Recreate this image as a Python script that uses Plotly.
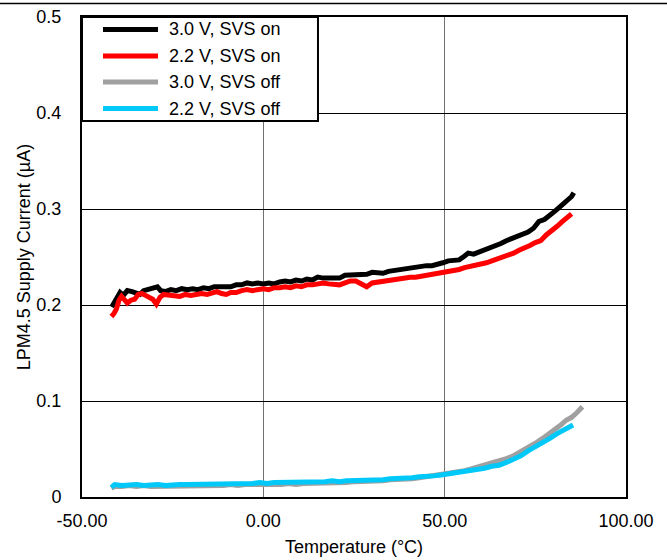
import plotly.graph_objects as go

series_names = ["3.0 V, SVS on", "2.2 V, SVS on", "3.0 V, SVS off", "2.2 V, SVS off"]
series_colors = ["#000000", "#FF0000", "#A0A0A0", "#00C8F8"]

x_on30 = [-41.8, -41.0, -40.2, -39.5, -38.6, -37.5, -36.2, -35.0, -34.0, -33.0, -31.8, -30.5, -29.2, -28.3,
          -27.0, -25.5, -24.0, -22.5, -21.0, -19.5, -18.0, -16.5, -15.0, -13.5, -12.0, -10.5, -9.0, -7.5,
          -6.0, -4.5, -3.0, -1.5, 0.0, 1.5, 3.0, 4.5, 6.0, 7.5, 9.0, 10.5, 12.0, 13.5, 15.0, 16.5, 18.0,
          19.5, 21.0, 22.5, 24.0, 25.5, 27.0, 28.5, 30.0, 31.5, 33.0, 34.5, 36.0, 37.5, 39.0, 40.5, 42.0,
          43.5, 45.0, 46.5, 48.0, 49.5, 51.0, 52.5, 54.0, 55.5, 56.5, 58.0, 59.5, 61.0, 62.5, 64.0, 65.5,
          67.0, 68.5, 70.0, 71.5, 73.0, 74.5, 76.0, 77.5, 79.0, 80.5, 82.0, 83.5, 85.0, 85.6]
y_on30 = [0.198, 0.203, 0.210, 0.213, 0.210, 0.215, 0.214, 0.213, 0.211, 0.215, 0.216, 0.218, 0.219, 0.215,
          0.214, 0.216, 0.215, 0.217, 0.216, 0.217, 0.216, 0.218, 0.217, 0.219, 0.219, 0.220, 0.219, 0.221,
          0.221, 0.223, 0.222, 0.223, 0.222, 0.223, 0.222, 0.224, 0.225, 0.224, 0.226, 0.225, 0.227, 0.226,
          0.229, 0.228, 0.228, 0.229, 0.228, 0.231, 0.231, 0.231, 0.232, 0.232, 0.234, 0.234, 0.233, 0.235,
          0.236, 0.236, 0.237, 0.239, 0.240, 0.240, 0.241, 0.241, 0.242, 0.244, 0.246, 0.246, 0.247, 0.251,
          0.254, 0.253, 0.255, 0.258, 0.259, 0.262, 0.264, 0.267, 0.269, 0.272, 0.274, 0.276, 0.280, 0.287,
          0.289, 0.293, 0.298, 0.303, 0.308, 0.313, 0.317]

x_on22 = [-41.9, -41.2, -40.5, -39.8, -39.1, -38.3, -37.5, -36.5, -35.5, -34.5, -33.5, -32.5, -31.5, -30.5,
          -29.5, -28.5, -27.5, -26.0, -24.5, -23.0, -21.5, -20.0, -18.5, -17.0, -15.5, -14.0, -12.8, -11.5,
          -10.2, -9.0, -7.5, -6.0, -4.5, -3.0, -1.5, 0.0, 1.5, 3.0, 4.5, 6.0, 7.5, 9.0, 10.5, 12.0, 13.5,
          15.0, 16.5, 18.0, 19.5, 21.0, 22.5, 24.0, 25.5, 27.0, 28.5, 30.0, 31.5, 33.0, 34.5, 36.0, 37.5,
          39.0, 40.5, 42.0, 43.5, 45.0, 46.5, 48.0, 49.5, 51.0, 52.5, 54.0, 55.5, 57.0, 58.5, 60.0, 61.5,
          63.0, 64.5, 66.0, 67.5, 69.0, 70.5, 72.0, 73.5, 75.0, 76.5, 78.0, 79.5, 81.0, 82.5, 84.0, 85.0]
y_on22 = [0.188, 0.191, 0.196, 0.205, 0.209, 0.205, 0.202, 0.205, 0.206, 0.211, 0.212, 0.210, 0.208, 0.206,
          0.201, 0.208, 0.211, 0.210, 0.210, 0.209, 0.211, 0.210, 0.211, 0.212, 0.211, 0.213, 0.214, 0.212,
          0.211, 0.213, 0.213, 0.215, 0.216, 0.215, 0.216, 0.217, 0.216, 0.218, 0.218, 0.219, 0.218, 0.220,
          0.219, 0.221, 0.221, 0.222, 0.223, 0.222, 0.222, 0.221, 0.223, 0.225, 0.225, 0.222, 0.219, 0.223,
          0.224, 0.225, 0.226, 0.226, 0.228, 0.228, 0.229, 0.229, 0.230, 0.231, 0.232, 0.232, 0.234, 0.234,
          0.236, 0.237, 0.239, 0.240, 0.241, 0.243, 0.244, 0.246, 0.248, 0.249, 0.251, 0.254, 0.257, 0.259,
          0.262, 0.265, 0.267, 0.273, 0.277, 0.282, 0.287, 0.291, 0.295]

x_off30 = [-41.9, -41.0, -39.0, -37.0, -35.0, -33.0, -31.0, -29.0, -27.0, -25.0, -23.0, -21.0, -19.0, -17.0,
           -15.0, -13.0, -11.0, -9.0, -7.0, -5.0, -3.0, -1.0, 1.0, 3.0, 5.0, 7.0, 9.0, 11.0, 13.0, 15.0,
           17.0, 19.0, 21.0, 23.0, 25.0, 27.0, 29.0, 31.0, 33.0, 35.0, 37.0, 39.0, 41.0, 43.0, 45.0, 47.0,
           49.0, 51.0, 53.0, 55.0, 57.0, 59.0, 61.0, 63.0, 65.0, 67.0, 69.0, 71.0, 73.0, 75.0, 77.0, 79.0,
           80.5, 82.0, 83.5, 85.0, 86.5, 88.0]
y_off30 = [0.009, 0.011, 0.011, 0.012, 0.011, 0.012, 0.011, 0.011, 0.012, 0.011, 0.011, 0.012, 0.011, 0.012,
           0.012, 0.012, 0.012, 0.013, 0.012, 0.013, 0.013, 0.012, 0.013, 0.013, 0.013, 0.014, 0.013, 0.014,
           0.014, 0.014, 0.015, 0.015, 0.014, 0.015, 0.016, 0.016, 0.016, 0.017, 0.017, 0.018, 0.018, 0.019,
           0.019, 0.020, 0.021, 0.022, 0.023, 0.024, 0.025, 0.027, 0.029, 0.031, 0.033, 0.035, 0.037, 0.040,
           0.043, 0.047, 0.052, 0.056, 0.061, 0.066, 0.071, 0.075, 0.080, 0.083, 0.088, 0.094]

x_off22 = [-41.9, -41.0, -39.0, -37.0, -35.0, -33.0, -31.0, -29.0, -27.0, -25.0, -23.0, -21.0, -19.0, -17.0,
           -15.0, -13.0, -11.0, -9.0, -7.0, -5.0, -3.0, -1.0, 1.0, 3.0, 5.0, 7.0, 9.0, 11.0, 13.0, 15.0,
           17.0, 19.0, 21.0, 23.0, 25.0, 27.0, 29.0, 31.0, 33.0, 35.0, 37.0, 39.0, 41.0, 43.0, 45.0, 47.0,
           49.0, 51.0, 53.0, 55.0, 57.0, 59.0, 61.0, 63.0, 65.0, 67.0, 69.0, 71.0, 73.0, 75.0, 77.0, 79.0,
           81.0, 83.0, 85.4]
y_off22 = [0.010, 0.013, 0.012, 0.013, 0.013, 0.012, 0.013, 0.013, 0.012, 0.013, 0.013, 0.013, 0.013, 0.013,
           0.013, 0.014, 0.013, 0.014, 0.014, 0.014, 0.014, 0.015, 0.014, 0.015, 0.015, 0.015, 0.015, 0.015,
           0.016, 0.016, 0.016, 0.017, 0.016, 0.017, 0.017, 0.017, 0.018, 0.018, 0.018, 0.019, 0.019, 0.020,
           0.020, 0.021, 0.021, 0.022, 0.023, 0.024, 0.025, 0.026, 0.028, 0.029, 0.030, 0.032, 0.033, 0.036,
           0.039, 0.043, 0.048, 0.052, 0.056, 0.061, 0.066, 0.070, 0.075]

x_ticks = [-50, 0, 50, 100]
x_tick_text = ["-50.00", "0.00", "50.00", "100.00"]
y_ticks = [0, 0.1, 0.2, 0.3, 0.4, 0.5]
y_tick_text = ["0", "0.1", "0.2", "0.3", "0.4", "0.5"]

x_title = "Temperature (°C)"
y_title = "LPM4.5 Supply Current (µA)"

FONT = "Arial, Liberation Sans, sans-serif"

fig = go.Figure()
for xs, ys, name, col in zip([x_on30, x_on22, x_off30, x_off22],
                             [y_on30, y_on22, y_off30, y_off22],
                             series_names, series_colors):
    fig.add_trace(go.Scatter(x=xs, y=ys, mode="lines", name=name,
                             line=dict(color=col, width=5), showlegend=False))

# custom legend box
shapes = [dict(type="rect", xref="paper", yref="paper", x0=0, x1=0.4338, y0=0.7833, y1=1.0,
               line=dict(color="black", width=2), fillcolor="white", layer="above"),
          dict(type="line", xref="paper", yref="paper", x0=-0.2, x1=1.2, y0=1.028, y1=1.028,
               line=dict(color="black", width=1.5))]
annotations = []
row_px = [29.5, 56, 82, 108.5]
for i, (name, col) in enumerate(zip(series_names, series_colors)):
    yp = 1 - (row_px[i] - 17) / 480
    shapes.append(dict(type="line", xref="paper", yref="paper", x0=0.0386, x1=0.1397, y0=yp, y1=yp,
                       line=dict(color=col, width=5), layer="above"))
    annotations.append(dict(xref="paper", yref="paper", x=0.1563, y=yp, text=name, showarrow=False,
                            xanchor="left", yanchor="middle", font=dict(size=18, color="black", family=FONT)))

fig.update_layout(
    width=667, height=560,
    margin=dict(l=82, r=41, t=17, b=63, autoexpand=False),
    paper_bgcolor="white", plot_bgcolor="white",
    font=dict(family=FONT, size=18, color="black"),
    shapes=shapes, annotations=annotations,
    showlegend=False,
)
fig.update_xaxes(range=[-50, 100], tickvals=x_ticks, ticktext=x_tick_text,
                 showgrid=True, gridcolor="#707070", gridwidth=1,
                 showline=True, linecolor="black", linewidth=2, mirror=True,
                 zeroline=False, ticks="", ticklabelstandoff=6, automargin=False,
                 title=dict(text=x_title, font=dict(size=18), standoff=11),
                 tickfont=dict(size=18))
fig.update_yaxes(range=[0, 0.5], tickvals=y_ticks, ticktext=y_tick_text,
                 showgrid=True, gridcolor="black", gridwidth=1,
                 showline=True, linecolor="black", linewidth=2, mirror=True,
                 zeroline=False, ticks="", ticklabelstandoff=15, automargin=False,
                 title=dict(text=y_title, font=dict(size=18), standoff=1),
                 tickfont=dict(size=18))

fig.write_html("out.html", config={"displayModeBar": False},
               post_script="document.body.style.margin='0';")
